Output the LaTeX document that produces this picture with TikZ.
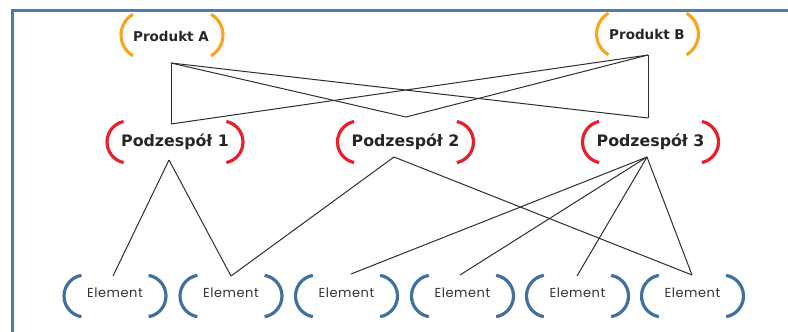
\documentclass[tikz,border=0pt]{standalone}
\usepackage{fontspec}
\setmainfont{DejaVu Sans}
\newfontfamily\elfont[LetterSpace=4]{Poppins}
\definecolor{frameblue}{HTML}{4F7DB3}
\definecolor{porange}{HTML}{F5A623}
\definecolor{pred}{HTML}{E8202A}
\definecolor{eblue}{HTML}{41709F}
\definecolor{linegray}{HTML}{2E2E2E}
\tikzset{
  pics/brk/.style n args={4}{code={%
    \draw[#4] ({-#1pt + #2pt - #2pt*cos(#3)}, {#2pt*sin(#3)}) arc[start angle={180-#3}, end angle={180+#3}, radius=#2pt];
    \draw[#4] ({#1pt - #2pt + #2pt*cos(#3)}, {#2pt*sin(#3)}) arc[start angle={#3}, end angle={-#3}, radius=#2pt];
  }},
  prodbr/.style={draw=porange, line width=3.2pt},
  podbr/.style={draw=pred, line width=3.2pt},
  elbr/.style={draw=eblue, line width=3.2pt},
  prodtext/.style={font=\fontsize{13.5}{15}\selectfont\bfseries, text=black!85, inner sep=0pt},
  podtext/.style={font=\fontsize{15.8}{17}\selectfont\bfseries, text=black!85, inner sep=0pt},
  eltext/.style={font=\fontsize{13}{15}\selectfont\elfont, text=black!80, inner sep=0pt},
  conn/.style={draw=linegray, line width=1pt},
  framel/.style={draw=frameblue, line width=3pt}
}
\begin{document}
\begin{tikzpicture}[x=1pt,y=-1pt]
\useasboundingbox (0,0) rectangle (788,332);
% frame
\coordinate (f1) at (12,332);
\coordinate (f2) at (12,10);
\coordinate (f3) at (788,10);
\draw[framel] (f1) -- (f2) -- (f3);
% products
\node[prodtext] (A) at (171,36) {Produkt A};
\pic at (172,35) {brk={51}{24}{60}{prodbr}};
\node[prodtext] (B) at (647,34) {Produkt B};
\pic at (647.5,34) {brk={51}{24}{60}{prodbr}};
% subassemblies
\node[podtext] (P1) at (175,142) {Podzespół 1};
\pic at (175,142) {brk={68}{21}{78}{podbr}};
\node[podtext] (P2) at (405.5,142) {Podzespół 2};
\pic at (405.5,142) {brk={68}{21}{78}{podbr}};
\node[podtext] (P3) at (650.5,142) {Podzespół 3};
\pic at (650.5,142) {brk={68}{21}{78}{podbr}};
% elements
\foreach \i/\x in {1/115,2/231,3/346.5,4/462.5,5/577.5,6/692.5}{
  \node[eltext] (E\i) at (\x,293) {Element};
  \pic at (\x,296) {brk={51}{21}{80}{elbr}};
}
% connection points
\coordinate (Ab) at (171,63);
\coordinate (Bb) at (648,55);
\coordinate (P1t) at (171,124);
\coordinate (P2t) at (406,117);
\coordinate (P3t) at (648,118);
\coordinate (P1b) at (169,160);
\coordinate (P2b) at (394,157);
\coordinate (P3b) at (647,157);
\coordinate (E1t) at (113,276);
\coordinate (E2t) at (231,276);
\coordinate (E3t) at (351,274);
\coordinate (E4t) at (460,275);
\coordinate (E5t) at (577,276);
\coordinate (E6t) at (692,275);
% product -> subassembly
\draw[conn] (Ab) -- (P1t);
\draw[conn] (Ab) -- (P2t);
\draw[conn] (Ab) -- (P3t);
\draw[conn] (Bb) -- (P1t);
\draw[conn] (Bb) -- (P2t);
\draw[conn] (Bb) -- (P3t);
% subassembly -> element
\draw[conn] (P1b) -- (E1t);
\draw[conn] (P1b) -- (E2t);
\draw[conn] (P2b) -- (E2t);
\draw[conn] (P2b) -- (E6t);
\draw[conn] (P3b) -- (E3t);
\draw[conn] (P3b) -- (E4t);
\draw[conn] (P3b) -- (E5t);
\draw[conn] (P3b) -- (E6t);
\end{tikzpicture}
\end{document}
